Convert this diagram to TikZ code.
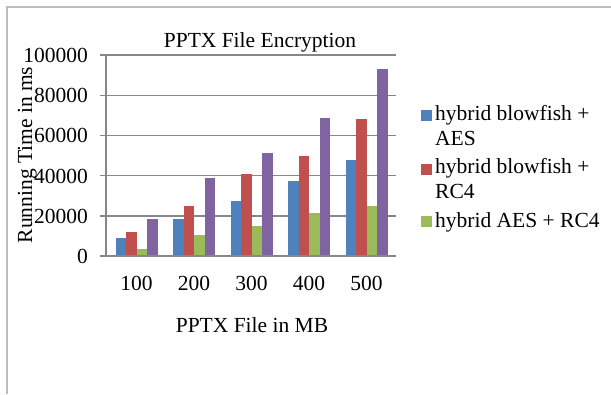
\documentclass[tikz,border=0pt]{standalone}
\usepackage{fontspec}
\setmainfont{Liberation Serif}
\definecolor{serBlue}{HTML}{4F81BD}
\definecolor{serRed}{HTML}{C0504D}
\definecolor{serGreen}{HTML}{9BBB59}
\definecolor{serPurple}{HTML}{8064A2}
\definecolor{gridgray}{HTML}{878787}
\definecolor{framegray}{HTML}{BDBDBD}
\tikzset{
  lbl/.style={font=\fontsize{21.5}{26}\selectfont, inner sep=0pt},
  gridline/.style={draw=gridgray, line width=1.4pt},
  legkey/.style={draw=none, minimum size=11pt, inner sep=0pt}
}
\begin{document}
\begin{tikzpicture}[x=1pt,y=-1pt]
\useasboundingbox (0,0) rectangle (611,394);
% outer frame (top and left edges)
\draw[framegray, line width=1.5pt] (7,394) -- (7,7) -- (611,7);

% horizontal gridlines with value labels (values in thousands of ms)
\foreach \v/\t in {0/0,20/20000,40/40000,60/60000,80/80000,100/100000}{
  \pgfmathsetmacro{\yy}{256-\v*2.01}
  \draw[gridline] (100,\yy) -- (396,\yy);
  \node[lbl, anchor=base east] (tick\v) at (88,\yy+7.5) {\t};
}
% value axis
\draw[gridline] (106,55) -- (106,256);

% bars: blue, red, green, purple per file size (thousands of ms)
\foreach \i/\a/\b/\c/\d in {0/9.0/12.0/3.5/18.4,
                             1/18.4/25.0/10.4/38.7,
                             2/27.4/41.0/15.0/51.0,
                             3/37.2/49.8/21.5/68.8,
                             4/47.8/68.0/25.0/93.0}{
  \pgfmathsetmacro{\cx}{136.5+57.5*\i}
  \fill[serBlue]   (\cx-21,256) rectangle (\cx-10.5,{256-\a*2.01});
  \fill[serRed]    (\cx-10.5,256) rectangle (\cx,{256-\b*2.01});
  \fill[serGreen]  (\cx,256) rectangle (\cx+10.5,{256-\c*2.01});
  \fill[serPurple] (\cx+10.5,256) rectangle (\cx+21,{256-\d*2.01});
}
\draw[gridline] (100,256) -- (396,256);

% category labels
\foreach \i/\t in {0/100,1/200,2/300,3/400,4/500}{
  \node[lbl, anchor=base] (cat\t) at ({136.5+57.5*\i},290.5) {\t};
}

% titles
\node[lbl, anchor=base] (title) at (260,47) {PPTX File Encryption};
\node[lbl, anchor=base] (xtitle) at (252,332) {PPTX File in MB};
\node[lbl, anchor=base, rotate=90] (ytitle) at (32,155) {Running Time in ms};

% legend
\node[legkey, fill=serBlue]  (kblue)  at (426.5,115.5) {};
\node[legkey, fill=serRed]   (kred)   at (426.5,169) {};
\node[legkey, fill=serGreen] (kgreen) at (426.5,221) {};
\node[lbl, anchor=base west] (lblue1)  at (435,120) {hybrid blowfish +};
\node[lbl, anchor=base west] (lblue2)  at (435,145.5) {AES};
\node[lbl, anchor=base west] (lred1)   at (435,173) {hybrid blowfish +};
\node[lbl, anchor=base west] (lred2)   at (435,198.5) {RC4};
\node[lbl, anchor=base west] (lgreen1) at (435,227) {hybrid AES + RC4};
\end{tikzpicture}
\end{document}
